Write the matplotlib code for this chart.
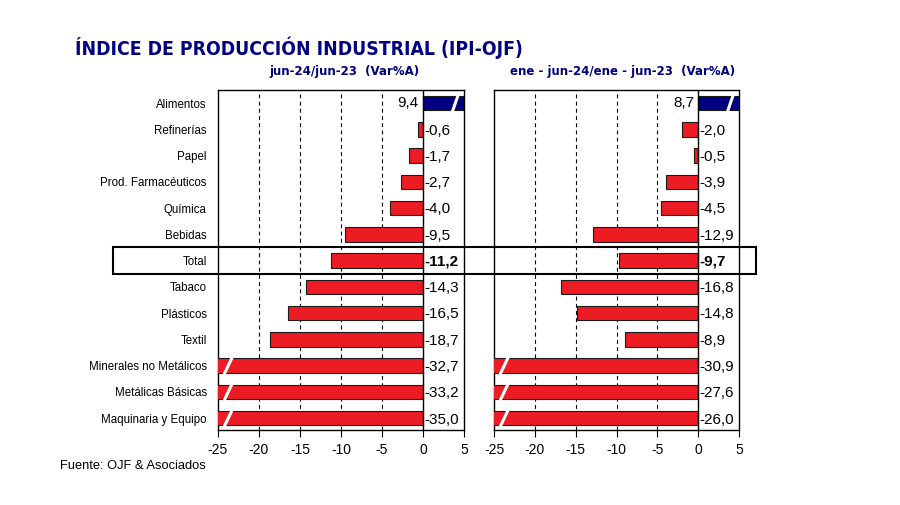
import numpy as np
import matplotlib.pyplot as plt
import matplotlib as mpl
from matplotlib.transforms import blended_transform_factory
from matplotlib.patches import Rectangle

mpl.rcParams['font.family'] = ['Liberation Sans', 'DejaVu Sans']

categories = ['Alimentos', 'Refinerías', 'Papel', 'Prod. Farmacéuticos', 'Química',
              'Bebidas', 'Total', 'Tabaco', 'Plásticos', 'Textil',
              'Minerales no Metálicos', 'Metálicas Básicas', 'Maquinaria y Equipo']
varMes = [9.4, -0.6, -1.7, -2.7, -4.0, -9.5, -11.2, -14.3, -16.5, -18.7, -32.7, -33.2, -35.0]
varAcum = [8.7, -2.0, -0.5, -3.9, -4.5, -12.9, -9.7, -16.8, -14.8, -8.9, -30.9, -27.6, -26.0]
subtitles = ['jun-24/jun-23  (Var%A)', 'ene - jun-24/ene - jun-23  (Var%A)']
xticks = [-25, -20, -15, -10, -5, 0, 5]
xlim = [-25, 5]

red = '#ED1C24'
navy = '#000080'
titleColor = '#000080'

fig = plt.figure(figsize=(9, 5.05), dpi=100)

axLeft = fig.add_axes([0.2422, 0.1485, 0.2733, 0.6733])
axRight = fig.add_axes([0.5489, 0.1485, 0.2722, 0.6733])

pos = np.arange(len(categories))
totalIdx = categories.index('Total')


def draw_panel(ax, values, subtitle, showLabels, subX):
    colors = [navy if v > 0 else red for v in values]
    ax.barh(pos, values, height=0.55, color=colors, edgecolor='#1a1a1a', linewidth=0.8, zorder=3)
    ax.set_xlim(xlim)
    ax.set_ylim(12.45, -0.5)
    # gridlines
    for t in xticks[1:-2]:
        ax.axvline(t, color='black', linestyle=(0, (3.5, 3)), linewidth=0.8, zorder=1)
    ax.axvline(0, color='black', linewidth=1.0, zorder=4)
    # break marks on clipped bars
    for i, v in enumerate(values):
        if v < xlim[0]:
            ax.plot([-24.3, -23.2], [i + 0.36, i - 0.36], color='white', linewidth=2.2, zorder=5,
                    solid_capstyle='butt')
        if v > xlim[1]:
            ax.plot([3.55, 4.35], [i + 0.36, i - 0.36], color='white', linewidth=2.2, zorder=5,
                    solid_capstyle='butt')
        label = f'{v:.1f}'.replace('.', ',')
        weight = 'bold' if i == totalIdx else 'normal'
        if v >= 0:
            ax.text(-0.5, i, label, ha='right', va='center', fontsize=11, fontweight=weight, zorder=6)
        else:
            ax.text(0.15, i + 0.05, label, ha='left', va='center', fontsize=11, fontweight=weight,
                    zorder=6)
    ax.set_xticks(xticks)
    ax.set_xticklabels([str(t) for t in xticks], fontsize=10)
    ax.tick_params(axis='x', direction='out', length=5, width=0.8, pad=4)
    ax.set_yticks(pos)
    if showLabels:
        ax.set_yticklabels(categories, fontsize=8.3)
        ax.tick_params(axis='y', length=0, pad=8)
    else:
        ax.set_yticklabels([])
        ax.tick_params(axis='y', length=0)
    for s in ax.spines.values():
        s.set_linewidth(1.0)
        s.set_color('black')
    ax.text(subX, 1.035, subtitle, transform=ax.transAxes, ha='center', va='bottom',
            fontsize=8.5, fontweight='bold', color=titleColor, family='DejaVu Sans')


draw_panel(axLeft, varMes, subtitles[0], True, 0.515)
draw_panel(axRight, varAcum, subtitles[1], False, 0.525)

# box around the Total row
trans = blended_transform_factory(fig.transFigure, axLeft.transData)
fig.patches.append(Rectangle((0.1256, totalIdx - 0.52), 0.7144, 1.04, transform=trans,
                             fill=False, edgecolor='black', linewidth=1.5, zorder=10,
                             clip_on=False))

fig.text(0.0833, 0.905, 'ÍNDICE DE PRODUCCIÓN INDUSTRIAL (IPI-OJF)', fontsize=13.9,
         fontweight='bold', color=titleColor, family='DejaVu Sans', stretch='condensed',
         va='center')
fig.text(0.067, 0.077, 'Fuente: OJF & Asociados', fontsize=9.3, va='center')

plt.savefig('out.png', dpi=100)
